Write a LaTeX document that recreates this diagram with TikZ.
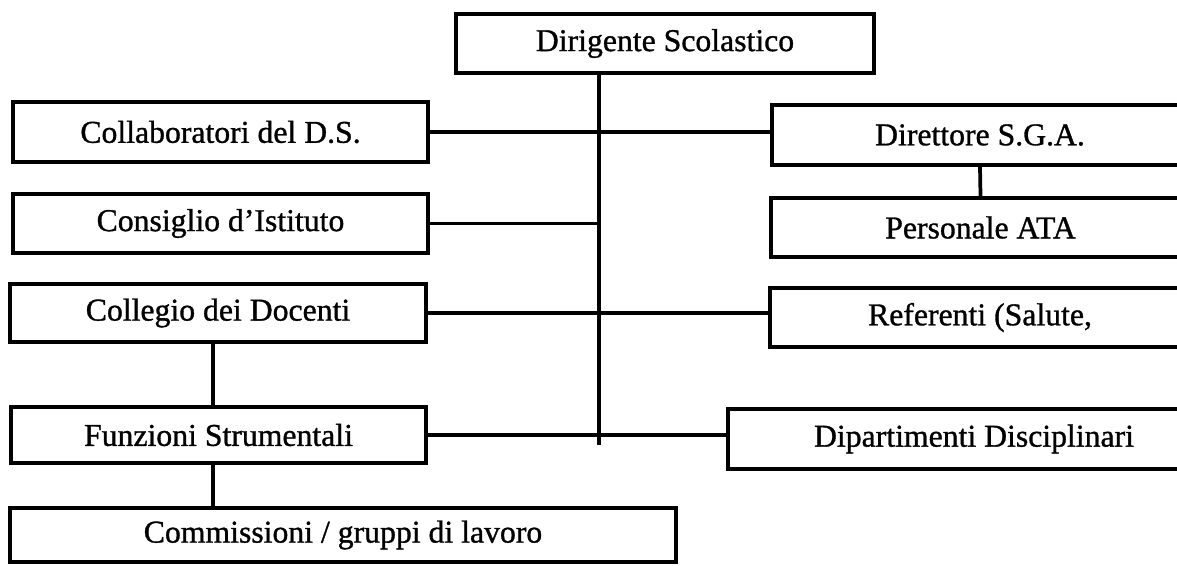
\documentclass[tikz,border=0pt]{standalone}
\usepackage{fontspec}
\setmainfont[BoldFont=Liberation Serif,BoldFeatures={FakeBold=1.0}]{Liberation Serif}
\begin{document}
\begin{tikzpicture}[x=0.75pt,y=-0.75pt,
  box/.style={draw,line width=2.8pt,inner sep=0pt,font=\fontsize{23.8}{28}\selectfont\bfseries},
  conn/.style={line width=2.8pt}]
\clip (0,0) rectangle (1177,566);
\fill[white] (0,0) rectangle (1177,566);
% left column
\node[box,minimum width={418*0.75pt},minimum height={59*0.75pt}] (dir) at (665,43.5) {Dirigente Scolastico};
\node[box,minimum width={415*0.75pt},minimum height={60*0.75pt}] (col) at (220.5,132) {Collaboratori del D.S.};
\node[box,minimum width={415*0.75pt},minimum height={59*0.75pt}] (cons) at (220.5,223.5) {Consiglio d’Istituto};
\node[box,minimum width={416*0.75pt},minimum height={58*0.75pt}] (colleg) at (218,313) {Collegio dei Docenti};
\node[box,minimum width={415*0.75pt},minimum height={56*0.75pt}] (funz) at (218.5,435) {Funzioni Strumentali};
\node[box,minimum width={666*0.75pt},minimum height={54*0.75pt}] (comm) at (343,535) {Commissioni / gruppi di lavoro};
% right column
\node[box,minimum width={416*0.75pt},minimum height={60*0.75pt}] (dsga) at (980,135) {Direttore S.G.A.};
\node[box,minimum width={419*0.75pt},minimum height={59*0.75pt}] (ata) at (980.5,227.5) {Personale ATA};
\node[box,minimum width={420*0.75pt},minimum height={59*0.75pt}] (ref) at (980,317.5) {Referenti (Salute,};
\node[box,minimum width={492*0.75pt},minimum height={60*0.75pt}] (dip) at (974,439) {Dipartimenti Disciplinari};
% connectors
\coordinate (tb) at (599,445);
\draw[conn] (dir.south -| tb) -- (tb);
\draw[conn] (col.east) -- (col.east -| dsga.west);
\draw[conn] (cons.east) -- (cons.east -| tb);
\draw[conn] (colleg.east) -- (colleg.east -| ref.west);
\draw[conn] (funz.east) -- (funz.east -| dip.west);
\draw[conn] (dsga.south) -- (ata.north);
\draw[conn] ([xshift={-5*0.75pt}]colleg.south) -- ([xshift={-5*0.75pt}]colleg.south |- funz.north);
\draw[conn] ([xshift={-5*0.75pt}]colleg.south |- funz.south) -- ([xshift={-5*0.75pt}]colleg.south |- comm.north);
\end{tikzpicture}
\end{document}
